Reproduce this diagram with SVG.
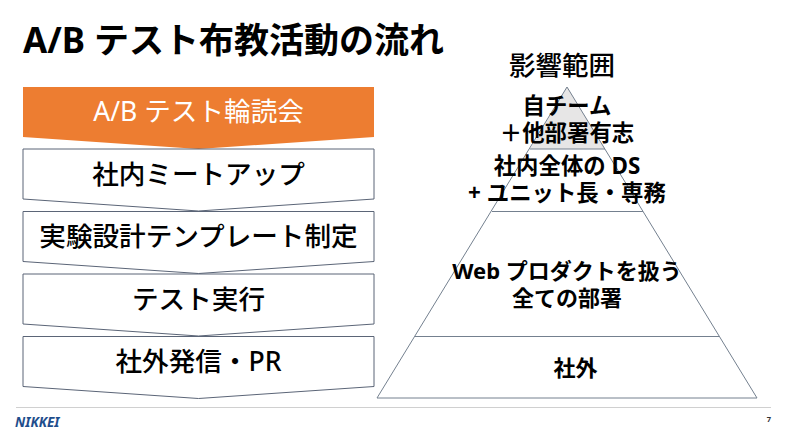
<svg xmlns="http://www.w3.org/2000/svg" width="786" height="435" viewBox="0 0 786 435">
<style>
text{font-family:"Noto Sans","Noto Sans CJK JP",sans-serif;fill:#000;text-anchor:middle}
.box{fill:#fff;stroke:#5b6577;stroke-width:1}
.lvl{fill:none;stroke:#74808f;stroke-width:1}
.b{font-size:26.600px;font-weight:500}
.p{font-size:22.400px;font-weight:700}
.q{font-size:22px;font-weight:700}
</style>
<rect width="786" height="435" fill="#fff"/>
<text id="title" x="23" y="53" font-size="35" font-weight="700" style="text-anchor:start">A/B テスト布教活動の流れ</text>
<g id="step1"><path d="M23 87H374V137L198.500 149L23 137Z" fill="#ed7d31"/><text class="b" x="198.500" y="121" style="fill:#fff;font-weight:400">A/B テスト輪読会</text></g>
<g id="step2"><path class="box" d="M23 149H374V199L198.500 211L23 199Z"/><text class="b" x="198.500" y="184">社内ミートアップ</text></g>
<g id="step3"><path class="box" d="M23 211.500H374V261.500L198.500 273.500L23 261.500Z"/><text class="b" x="198.500" y="246">実験設計テンプレート制定</text></g>
<g id="step4"><path class="box" d="M23 274H374V324L198.500 336L23 324Z"/><text class="b" x="198.500" y="309">テスト実行</text></g>
<g id="step5"><path class="box" d="M23 336.500H374V386.500L198.500 398.500L23 386.500Z"/><text class="b" x="198.500" y="371">社外発信・PR</text></g>
<text id="scope" x="562" y="75" font-size="26.500" font-weight="500">影響範囲</text>
<g id="pyramid">
<path d="M567 87L530 149H605Z" fill="#e7e6e6"/>
<path class="lvl" d="M567 87L757 398H377Z"/>
<path class="lvl" d="M530 149H605M492 211.500H643M415 336.500H719"/>
</g>
<g id="level1"><text class="p"><tspan x="567" y="114">自チーム</tspan><tspan x="567" y="141">＋他部署有志</tspan></text></g>
<g id="level2"><text class="p"><tspan x="567" y="174">社内全体の DS</tspan><tspan x="567" y="201">+ ユニット長・専務</tspan></text></g>
<g id="level3"><text class="q"><tspan x="567" y="279">Web プロダクトを扱う</tspan><tspan x="567" y="306">全ての部署</tspan></text></g>
<g id="level4"><text class="q" x="575.500" y="376">社外</text></g>
<path id="footer-rule" d="M16 407.500H771" stroke="#d0d0d0" stroke-width="1" fill="none"/>
<text id="logo" x="15" y="427" font-size="13.500" font-weight="700" font-style="italic" style="text-anchor:start;fill:#1f4e8c">NIKKEI</text>
<text id="page" x="769" y="422" font-size="7.500" font-weight="700" style="fill:#333">7</text>
</svg>
